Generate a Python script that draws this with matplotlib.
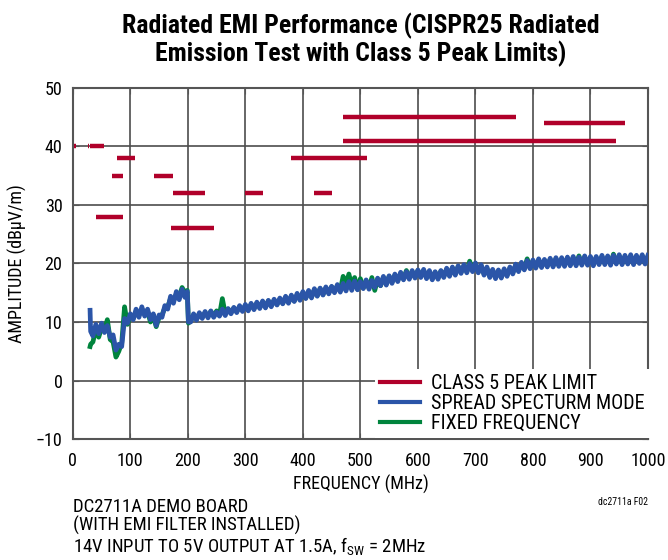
import matplotlib
matplotlib.use('Agg')
import matplotlib.pyplot as plt

matplotlib.rcParams['font.family'] = ['Roboto Condensed', 'Liberation Sans Narrow',
                                      'Liberation Sans', 'DejaVu Sans']
matplotlib.rcParams['font.size'] = 13

# CISPR25 class 5 peak limits: (start MHz, stop MHz, level dBuV/m)
limit_start = [2, 26, 30, 41, 68, 76, 142, 171, 174, 300, 380, 420, 470, 470, 820]
limit_stop = [6, 28, 54, 88, 87, 108, 175, 245, 230, 330, 512, 450, 944, 770, 960]
limit_level = [40, 40, 40, 28, 35, 38, 35, 26, 32, 32, 38, 32, 41, 45, 44]

freq = [30, 31] + list(range(35, 200, 5)) + [199, 201] + list(range(205, 1001, 5))

spread = [12.0, 8.4,
          7.6, 9.6, 8.0, 9.8, 8.2, 9.4, 7.4, 7.8, 5.2, 6.2,
          5.8, 10.6, 9.8, 11.4, 10.4, 12.2, 10.8, 12.6, 11.0, 12.2,
          10.4, 11.4, 9.4, 11.2, 10.8, 12.8, 12.2, 14.4, 13.2, 15.2,
          13.8, 15.6, 14.2,
          15.2, 10.0,
          10.0, 11.4, 10.3, 11.6, 10.6, 11.8, 10.7, 11.9, 10.8, 11.7,
          11.0, 12.2, 11.1, 12.3, 11.4, 12.5, 11.6, 12.8, 11.8, 13.0,
          11.9, 13.2, 12.1, 13.4, 12.3, 13.6, 12.4, 13.7, 12.6, 13.9,
          12.9, 14.1, 13.1, 14.4, 13.2, 14.6, 13.5, 14.9, 13.7, 15.2,
          14.0, 15.4, 14.1, 15.7, 14.4, 15.8, 14.6, 16.0, 14.8, 16.1,
          15.0, 16.4, 15.1, 16.6, 15.3, 16.9, 15.4, 17.0, 15.5, 16.9,
          15.7, 17.2, 15.6, 17.1, 15.9, 17.5, 16.2, 17.8, 16.3, 17.9,
          16.6, 18.2, 16.9, 18.5, 17.2, 18.6, 17.3, 18.8, 17.5, 18.9,
          17.6, 19.0, 17.4, 18.8, 17.2, 18.6, 17.3, 18.8, 17.6, 19.2,
          17.8, 19.4, 18.0, 19.6, 18.3, 19.8, 18.4, 20.0, 18.6, 20.1,
          18.4, 19.8, 18.0, 19.4, 17.6, 19.0, 17.4, 18.9, 17.5, 19.1,
          17.8, 19.4, 18.2, 19.9, 18.6, 20.2, 18.9, 20.5, 19.1, 20.6,
          19.2, 20.8, 19.3, 20.7, 19.4, 20.9, 19.4, 21.0, 19.5, 21.0,
          19.5, 21.1, 19.6, 21.2, 19.6, 21.1, 19.7, 21.3, 19.7, 21.2,
          19.6, 21.2, 19.8, 21.4, 19.8, 21.3, 19.7, 21.4, 19.9, 21.5,
          19.8, 21.4, 19.9, 21.5, 19.8, 21.4, 20.0, 21.5, 19.9, 21.4]

fixed = [5.8, 6.2,
         6.6, 8.8, 7.4, 9.0, 8.6, 10.4, 7.0, 6.6, 4.0, 5.0,
         6.4, 12.6, 9.6, 11.0, 10.6, 11.8, 11.2, 12.2, 11.4, 11.8,
         10.0, 11.0, 9.2, 10.8, 11.2, 12.4, 12.6, 14.0, 13.6, 14.8,
         14.4, 15.9, 15.0,
         15.4, 9.8,
         10.2, 11.2, 10.5, 11.4, 10.8, 11.6, 11.0, 11.8, 11.0, 11.9,
         11.2, 14.0, 11.4, 12.2, 11.6, 12.4, 11.8, 12.6, 12.0, 12.8,
         12.1, 13.0, 12.3, 13.2, 12.5, 13.4, 12.6, 13.6, 12.8, 13.7,
         13.0, 13.9, 13.2, 14.2, 13.4, 14.4, 13.6, 14.6, 13.9, 15.0,
         14.1, 15.2, 14.3, 15.5, 14.5, 15.7, 14.7, 15.8, 15.0, 16.0,
         15.2, 16.2, 15.4, 17.8, 16.4, 18.2, 16.2, 17.6, 15.6, 17.4,
         15.8, 17.0, 15.8, 17.6, 15.4, 17.3, 16.2, 17.6, 16.5, 17.8,
         16.8, 18.0, 17.1, 18.3, 17.4, 18.8, 17.5, 18.6, 17.7, 18.8,
         17.8, 18.8, 17.6, 18.6, 17.4, 18.5, 17.5, 18.7, 17.8, 19.0,
         18.0, 19.2, 18.2, 19.5, 18.5, 19.6, 18.6, 20.4, 18.8, 20.0,
         18.6, 19.6, 18.2, 19.2, 17.8, 18.8, 17.6, 18.7, 17.7, 18.9,
         18.0, 19.2, 18.4, 19.7, 18.8, 20.0, 19.1, 20.8, 19.3, 20.4,
         19.4, 20.6, 19.5, 20.5, 19.6, 20.7, 19.6, 20.8, 19.7, 20.8,
         19.7, 20.9, 19.8, 21.0, 19.8, 21.3, 19.9, 21.1, 19.9, 21.0,
         19.8, 21.0, 20.0, 21.2, 20.0, 21.1, 19.9, 21.6, 20.1, 21.3,
         20.0, 21.2, 20.1, 21.3, 20.0, 21.2, 20.2, 21.3, 20.1, 21.2]

red = '#b0002a'
blue = '#2b55a8'
green = '#00843d'

fig = plt.figure(figsize=(6.68, 5.6), dpi=100)
ax = fig.add_axes([0.109, 0.216, 0.861, 0.627])

for i in range(len(limit_level)):
    ax.plot([limit_start[i], limit_stop[i]], [limit_level[i], limit_level[i]],
            color=red, lw=3.2, solid_capstyle='butt', zorder=4)
ax.plot(freq, fixed, color=green, lw=3.4, zorder=2)
ax.plot(freq, spread, color=blue, lw=3.4, zorder=3)

ax.set_xlim(0, 1000)
ax.set_ylim(-10, 50)
ax.set_xticks(range(0, 1001, 100))
ax.set_yticks(range(-10, 51, 10))
ax.set_yticklabels(['\u221210', '0', '10', '20', '30', '40', '50'])
ax.grid(True, color='#4d4d4d', lw=1.2)
ax.set_axisbelow(True)
ax.tick_params(direction='in', length=4, top=True, right=True,
               labelsize=13, color='#555555')
ax.tick_params(axis='x', pad=9)
ax.tick_params(axis='y', pad=7.5)
for s in ax.spines.values():
    s.set_color('#555555')
    s.set_linewidth(1.5)

ax.set_xlabel('FREQUENCY (MHz)', fontsize=13, labelpad=4)
ax.set_ylabel('AMPLITUDE (dB\u00b5V/m)', fontsize=13, labelpad=6)
ax.set_title('Radiated EMI Performance (CISPR25 Radiated\n'
             'Emission Test with Class 5 Peak Limits)',
             fontsize=18.5, fontweight='bold', pad=19, linespacing=1.1)

handles = [plt.Line2D([], [], color=red, lw=3),
           plt.Line2D([], [], color=blue, lw=3),
           plt.Line2D([], [], color=green, lw=3)]
leg = ax.legend(handles, ['CLASS 5 PEAK LIMIT', 'SPREAD SPECTURM MODE',
                          'FIXED FREQUENCY'],
                loc='lower left', bbox_to_anchor=(0.525, 0.004),
                fontsize=14.5, frameon=True, fancybox=False,
                framealpha=1, edgecolor='none', borderaxespad=0,
                handlelength=2.0, handletextpad=0.55, labelspacing=0.05,
                borderpad=0.25)
leg.set_zorder(6)

fig.text(0.109, 0.004, 'DC2711A DEMO BOARD\n(WITH EMI FILTER INSTALLED)\n'
         '14V INPUT TO 5V OUTPUT AT 1.5A, f$_\\mathregular{SW}$ = 2MHz',
         fontsize=13.5, va='bottom', ha='left', linespacing=1.0)
fig.text(0.97, 0.095, 'dc2711a F02', fontsize=7, ha='right', va='bottom')

fig.savefig('out.png', dpi=100)
